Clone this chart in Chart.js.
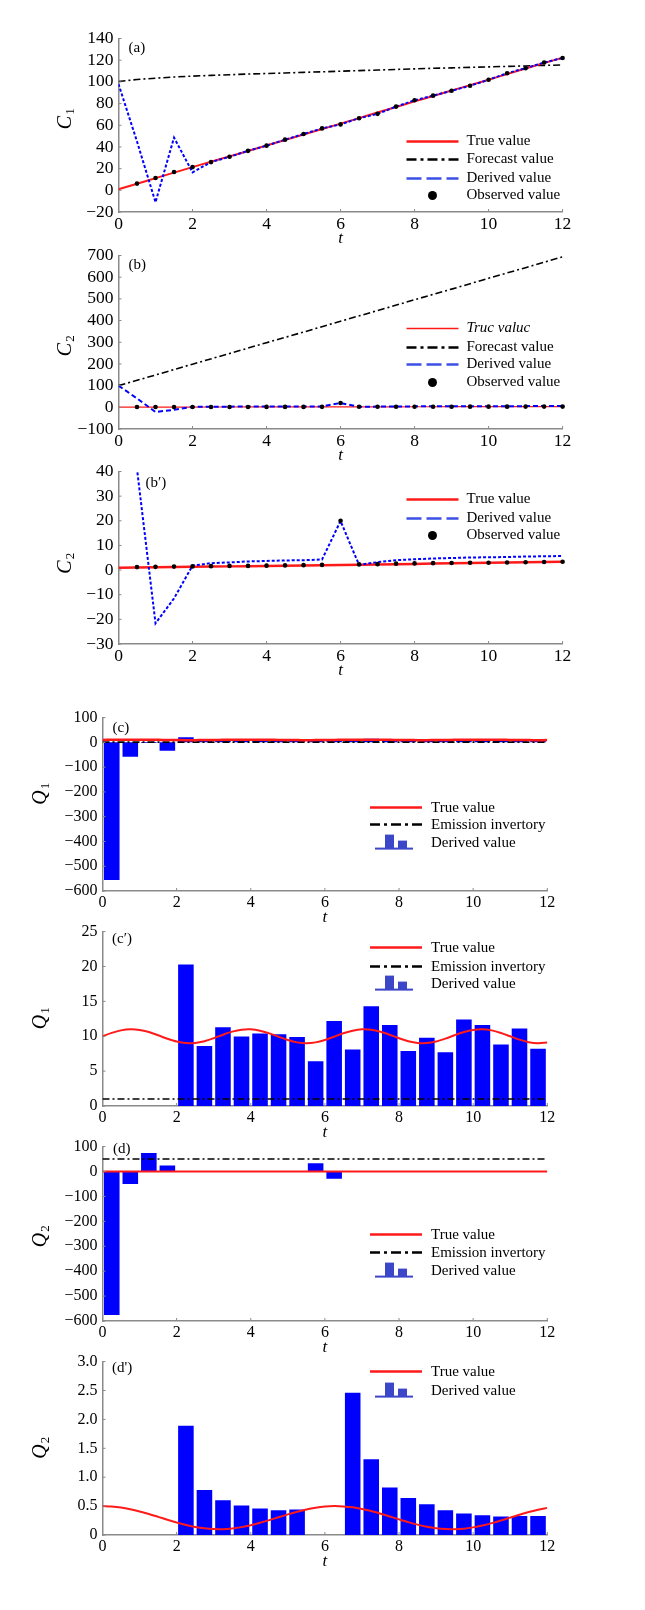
<!DOCTYPE html>
<html>
<head>
<meta charset="utf-8">
<script src="https://cdn.jsdelivr.net/npm/chart.js@4.4.0/dist/chart.umd.min.js"></script>
<style>
  body { margin: 0; background: #fff; }
  #wrap { position: relative; width: 645px; height: 1610px; overflow: hidden; }
  #wrap canvas { position: absolute; left: 0; }
</style>
</head>
<body>
<div id="wrap"></div>
<script>
// time grids
const tHalf = [0, 0.5, 1, 1.5, 2, 2.5, 3, 3.5, 4, 4.5, 5, 5.5, 6, 6.5, 7, 7.5, 8, 8.5, 9, 9.5, 10, 10.5, 11, 11.5, 12];
const tObs = [0.5, 1, 1.5, 2, 2.5, 3, 3.5, 4, 4.5, 5, 5.5, 6, 6.5, 7, 7.5, 8, 8.5, 9, 9.5, 10, 10.5, 11, 11.5, 12];
const tInt = [0, 1, 2, 3, 4, 5, 6, 7, 8, 9, 10, 11, 12];
const tBar = [0.25, 0.75, 1.25, 1.75, 2.25, 2.75, 3.25, 3.75, 4.25, 4.75, 5.25, 5.75,
              6.25, 6.75, 7.25, 7.75, 8.25, 8.75, 9.25, 9.75, 10.25, 10.75, 11.25, 11.75];
const tFine = [0, 0.25, 0.5, 0.75, 1, 1.25, 1.5, 1.75, 2, 2.25, 2.5, 2.75, 3, 3.25, 3.5, 3.75,
               4, 4.25, 4.5, 4.75, 5, 5.25, 5.5, 5.75, 6, 6.25, 6.5, 6.75, 7, 7.25, 7.5, 7.75,
               8, 8.25, 8.5, 8.75, 9, 9.25, 9.5, 9.75, 10, 10.25, 10.5, 10.75, 11, 11.25, 11.5, 11.75, 12];

// (a) C1
const c1True = [1, 6, 11.2, 16.3, 21.4, 26.4, 31.3, 36.3, 41.3, 46.4, 51.5, 56.5, 61.5, 66.6, 71.7,
                76.8, 82, 87, 92, 97, 102, 107.2, 112.4, 117.4, 122.2];
const c1Forecast = [100.4, 102.2, 103.4, 104.5, 105.3, 106, 106.6, 107.2, 107.7, 108.2, 108.8, 109.3,
                    109.8, 110.4, 110.9, 111.5, 112, 112.5, 112.9, 113.4, 113.8, 114.3, 114.7, 115.2, 115.6];
const c1Derived = [98, 45, -11, 48.6, 16.6, 26, 30.9, 36.4, 41.2, 46.7, 51.9, 57.1, 60.8, 66.5, 70.5,
                   77.2, 83, 87.3, 91.8, 96.4, 101.9, 108, 112.6, 117.8, 122];
const c1Obs = [6.2, 11.4, 16.9, 21.4, 26, 30.9, 36.4, 41.2, 46.7, 51.9, 57.1, 60.8, 66.5, 70.5, 77.2,
               83, 87.3, 91.8, 96.4, 101.9, 108, 112.6, 117.8, 122];

// (b) and (b') C2
const c2True = [0.9, 1.1, 1.3, 1.5, 1.7, 1.9, 2.1, 2.3, 2.5, 2.8, 3.0, 3.2, 3.4];
const c2Forecast = [100, 149, 199, 248, 298, 347, 397, 446, 496, 545, 595, 644, 694];
const c2Derived = [100, 41, -21.6, -11.5, 1.8, 2.8, 3.1, 3.5, 3.7, 3.9, 4.0, 4.3, 19.9, 2.1, 3.2,
                   4.0, 4.4, 4.7, 4.9, 5.1, 5.2, 5.3, 5.5, 5.6, 5.7];
const c2Obs = [1.2, 1.3, 1.4, 1.5, 1.6, 1.7, 1.7, 1.8, 1.9, 2.0, 2.1, 20, 2.3, 2.4, 2.6, 2.7, 2.8,
               2.9, 3.0, 3.0, 3.1, 3.2, 3.3, 3.4];

// (c) and (c') Q1
const q1True = [10, 10.48, 10.84, 11, 10.91, 10.6, 10.14, 9.65, 9.24, 9.02, 9.04, 9.29, 9.72, 10.22,
                10.66, 10.94, 10.99, 10.8, 10.41, 9.92, 9.46, 9.12, 9, 9.12, 9.46, 9.93, 10.42, 10.8,
                10.99, 10.93, 10.65, 10.21, 9.71, 9.29, 9.04, 9.02, 9.25, 9.66, 10.15, 10.6, 10.91,
                11, 10.84, 10.47, 9.99, 9.51, 9.15, 9, 9.09];
const q1Inventory = [1, 1];
const q1Derived = [-556, -58, -3, -34, 20.3, 8.6, 11.3, 9.95, 10.4, 10.3, 9.9, 6.4, 12.2, 8.1,
                   14.3, 11.6, 7.9, 9.8, 7.7, 12.4, 11.6, 8.8, 11.1, 8.2];

// (d) and (d') Q2
const q2True = [0.5, 0.494, 0.476, 0.446, 0.408, 0.363, 0.314, 0.264, 0.217, 0.174, 0.14, 0.115,
                0.102, 0.101, 0.113, 0.136, 0.169, 0.211, 0.258, 0.308, 0.357, 0.402, 0.442, 0.472,
                0.492, 0.5, 0.495, 0.479, 0.451, 0.414, 0.369, 0.321, 0.271, 0.223, 0.18, 0.144,
                0.118, 0.103, 0.101, 0.11, 0.132, 0.164, 0.205, 0.251, 0.301, 0.351, 0.397, 0.438, 0.469];
const q2Inventory = [50, 50];
const q2Derived = [-576, -50, 74.6, 24, 1.89, 0.78, 0.6, 0.51, 0.46, 0.43, 0.44, 33, -29.5, 2.46,
                   1.31, 0.82, 0.64, 0.53, 0.43, 0.37, 0.34, 0.32, 0.33, 0.33];
const q2DerivedZoom = [null, null, null, null, 1.89, 0.78, 0.6, 0.51, 0.46, 0.43, 0.44, null, null,
                       2.46, 1.31, 0.82, 0.64, 0.53, 0.43, 0.37, 0.34, 0.32, 0.33, 0.33];
const tEnds = [0, 12];

const FONT = "'Liberation Serif', 'Times New Roman', serif";
const RED = '#ff1a1a';
const BLUE = '#0000ff';
const LEG_BLUE = '#3c50e6';
const ICON_BLUE = '#3c46c8';
const AXIS = '#8a8a8a';
const PAD_TOP = 14;
const BELOW = 52;

function pts(xs, ys) {
    return xs.map((x, i) => ({ x: x, y: ys[i] }));
}

function trueLine(xs, ys, width) {
    return { type: 'line', data: pts(xs, ys), borderColor: RED, borderWidth: width || 2,
             pointRadius: 0, tension: 0.3, clip: 0, order: 1 };
}
function dashDot(xs, ys) {
    return { type: 'line', data: pts(xs, ys), borderColor: '#000', borderWidth: 1.6,
             borderDash: [7, 3, 2, 3], pointRadius: 0, clip: 0, order: 1 };
}
function derivedLine(xs, ys, dash) {
    return { type: 'line', data: pts(xs, ys), borderColor: BLUE, borderWidth: 2,
             borderDash: dash || [3, 2], pointRadius: 0, clip: 0, order: 0 };
}
function observed(xs, ys) {
    return { type: 'line', data: pts(xs, ys), showLine: false, pointRadius: 2.3,
             pointBackgroundColor: '#000', pointBorderWidth: 0, clip: 6, order: -1 };
}
function bars(xs, ys) {
    return { type: 'bar', data: pts(xs, ys), backgroundColor: BLUE, borderWidth: 0,
             barPercentage: 0.84, categoryPercentage: 1, clip: 0, order: 3 };
}

const LEG_TRUE = { kind: 'line', color: RED, width: 2.5, text: 'True value' };
const LEG_FORECAST = { kind: 'line', color: '#000', width: 2.5, dash: [10, 4, 3, 4], text: 'Forecast value' };
const LEG_DERIVED = { kind: 'line', color: LEG_BLUE, width: 2.5, dash: [15, 5], text: 'Derived value' };
const LEG_OBS = { kind: 'dot', text: 'Observed value' };
const LEG_INV = { kind: 'line', color: '#000', width: 2.5, dash: [10, 4, 3, 4], text: 'Emission invertory' };
const LEG_BAR = { kind: 'bar', text: 'Derived value' };

// draws the things chart.js has no option for: inward ticks, subscript labels, tags, legend
const decor = {
    id: 'decor',
    afterDraw(chart) {
        const p = chart.options.plugins.decor;
        const ctx = chart.ctx;
        const a = chart.chartArea;
        ctx.save();

        ctx.strokeStyle = AXIS;
        ctx.lineWidth = 1;
        chart.scales.x.ticks.forEach(t => {
            const x = chart.scales.x.getPixelForValue(t.value);
            ctx.beginPath(); ctx.moveTo(x, a.bottom); ctx.lineTo(x, a.bottom - 3); ctx.stroke();
        });
        chart.scales.y.ticks.forEach(t => {
            const y = chart.scales.y.getPixelForValue(t.value);
            ctx.beginPath(); ctx.moveTo(a.left, y); ctx.lineTo(a.left + 3, y); ctx.stroke();
        });

        // y title with subscript
        ctx.fillStyle = '#000';
        ctx.textBaseline = 'middle';
        ctx.save();
        ctx.translate(p.yTitleX, (a.top + a.bottom) / 2 + p.yTitleDy);
        ctx.rotate(-Math.PI / 2);
        ctx.font = 'italic 20px ' + FONT;
        const w1 = ctx.measureText(p.yMain).width;
        ctx.font = '13px ' + FONT;
        const w2 = ctx.measureText(p.ySub).width;
        const sx = -(w1 + w2) / 2;
        ctx.font = 'italic 20px ' + FONT;
        ctx.textAlign = 'left';
        ctx.fillText(p.yMain, sx, 0);
        ctx.font = '13px ' + FONT;
        ctx.fillText(p.ySub, sx + w1 + 1, 5);
        ctx.restore();

        // panel tag
        ctx.font = '15px ' + FONT;
        ctx.textAlign = 'left';
        ctx.fillText(p.tag, a.left + p.tagDx, a.top + p.tagDy);

        // legend
        p.legend.forEach((item, i) => {
            const y = a.top + p.rows[i];
            const x0 = a.left + p.legX;
            ctx.save();
            if (item.kind === 'line') {
                ctx.strokeStyle = item.color;
                ctx.lineWidth = item.width;
                ctx.setLineDash(item.dash || []);
                ctx.beginPath(); ctx.moveTo(x0, y); ctx.lineTo(x0 + 52, y); ctx.stroke();
            } else if (item.kind === 'dot') {
                ctx.fillStyle = '#000';
                ctx.beginPath(); ctx.arc(x0 + 26, y, 4.5, 0, Math.PI * 2); ctx.fill();
            } else {
                ctx.fillStyle = ICON_BLUE;
                ctx.fillRect(x0 + 5, y + 5, 38, 2);
                ctx.fillRect(x0 + 15, y - 8, 9, 14);
                ctx.fillRect(x0 + 28, y - 2, 9, 8);
            }
            ctx.restore();
            ctx.font = (item.italic ? 'italic ' : '') + '15px ' + FONT;
            ctx.fillStyle = '#000';
            ctx.fillText(item.text, x0 + p.legText, y);
        });
        ctx.restore();
    }
};

function tickText(v, decimals) {
    if (decimals && v !== 0) return v.toFixed(decimals);
    return v < 0 ? '\u2212' + Math.abs(v) : String(v);
}

function makePanel(p) {
    const wrap = document.getElementById('wrap');
    const canvas = document.createElement('canvas');
    const h = Math.round(p.bottom - p.top) + PAD_TOP + BELOW;
    canvas.width = 645;
    canvas.height = h;
    canvas.style.top = (p.top - PAD_TOP) + 'px';
    wrap.appendChild(canvas);

    new Chart(canvas, {
        type: 'line',
        data: { datasets: p.datasets },
        options: {
            responsive: false,
            animation: false,
            events: [],
            layout: { padding: { left: 0, right: 645 - p.right, top: PAD_TOP, bottom: 0 } },
            plugins: {
                legend: { display: false },
                tooltip: { enabled: false },
                decor: p
            },
            scales: {
                x: {
                    type: 'linear', min: 0, max: 12, offset: false,
                    grid: { display: false, drawTicks: false },
                    border: { display: true, color: AXIS, width: 1.5 },
                    ticks: { stepSize: 2, color: '#000', padding: 2, maxRotation: 0, autoSkip: false,
                             font: { family: FONT, size: p.tickSize } },
                    title: { display: true, text: 't', color: '#000',
                             font: { family: FONT, size: 17, style: 'italic' },
                             padding: { top: 0, bottom: 15 } },
                    afterFit: s => { s.height = BELOW; }
                },
                y: {
                    type: 'linear', min: p.yMin, max: p.yMax,
                    grid: { display: false, drawTicks: false },
                    border: { display: true, color: AXIS, width: 1.5 },
                    ticks: { stepSize: p.yStep, color: '#000', padding: 5, autoSkip: false,
                             font: { family: FONT, size: p.tickSize },
                             callback: v => tickText(v, p.decimals) },
                    afterFit: s => { s.width = p.left; }
                }
            }
        },
        plugins: [decor]
    });
}

const groupA = { left: 118.5, right: 562.6, tickSize: 17.5, yTitleX: 66, legX: 288, legText: 60, yMain: 'C' };
const groupC = { left: 102.5, right: 547.3, tickSize: 16, yTitleX: 41, legX: 267.5, legText: 61, yMain: 'Q' };

document.addEventListener('DOMContentLoaded', () => {
    makePanel(Object.assign({}, groupA, {
        top: 37, bottom: 212, yMin: -20, yMax: 140, yStep: 20, ySub: '1', yTitleDy: -6,
        tag: '(a)', tagDx: 10, tagDy: 10, rows: [103, 121, 140, 157],
        legend: [LEG_TRUE, LEG_FORECAST, LEG_DERIVED, LEG_OBS],
        datasets: [trueLine(tHalf, c1True), dashDot(tHalf, c1Forecast),
                   derivedLine(tHalf, c1Derived), observed(tObs, c1Obs)]
    }));
    makePanel(Object.assign({}, groupA, {
        top: 254, bottom: 429, yMin: -100, yMax: 700, yStep: 100, ySub: '2', yTitleDy: 4,
        tag: '(b)', tagDx: 10, tagDy: 10, rows: [73, 92, 109, 127],
        legend: [Object.assign({}, LEG_TRUE, { width: 1.5, text: 'Truc valuc', italic: true }),
                 LEG_FORECAST, LEG_DERIVED, LEG_OBS],
        datasets: [trueLine(tInt, c2True, 1.2), dashDot(tInt, c2Forecast),
                   derivedLine(tHalf, c2Derived, [5, 3]), observed(tObs, c2Obs)]
    }));
    makePanel(Object.assign({}, groupA, {
        top: 470, bottom: 644, yMin: -30, yMax: 40, yStep: 10, ySub: '2', yTitleDy: 6,
        tag: '(b\u2032)', tagDx: 27, tagDy: 12, rows: [28, 47, 64],
        legend: [LEG_TRUE, LEG_DERIVED, LEG_OBS],
        datasets: [trueLine(tInt, c2True, 2.5), derivedLine(tHalf, c2Derived), observed(tObs, c2Obs)]
    }));
    makePanel(Object.assign({}, groupC, {
        top: 717, bottom: 891, yMin: -600, yMax: 100, yStep: 100, ySub: '1', yTitleDy: -10,
        tag: '(c)', tagDx: 10, tagDy: 10, rows: [90, 107, 125],
        legend: [LEG_TRUE, LEG_INV, LEG_BAR],
        datasets: [trueLine(tFine, q1True, 2.5), dashDot(tEnds, q1Inventory), bars(tBar, q1Derived)]
    }));
    makePanel(Object.assign({}, groupC, {
        top: 931, bottom: 1106, yMin: 0, yMax: 25, yStep: 5, ySub: '1', yTitleDy: 0,
        tag: '(c\u2032)', tagDx: 9.5, tagDy: 7, rows: [16, 35, 52],
        legend: [LEG_TRUE, LEG_INV, LEG_BAR],
        datasets: [trueLine(tFine, q1True), dashDot(tEnds, q1Inventory), bars(tBar, q1Derived)]
    }));
    makePanel(Object.assign({}, groupC, {
        top: 1146, bottom: 1321, yMin: -600, yMax: 100, yStep: 100, ySub: '2', yTitleDy: 3,
        tag: '(d)', tagDx: 10.5, tagDy: 2, rows: [88, 106, 124],
        legend: [LEG_TRUE, LEG_INV, LEG_BAR],
        datasets: [trueLine(tFine, q2True), dashDot(tEnds, q2Inventory), bars(tBar, q2Derived)]
    }));
    makePanel(Object.assign({}, groupC, {
        top: 1361, bottom: 1535, yMin: 0, yMax: 3, yStep: 0.5, decimals: 1, ySub: '2', yTitleDy: 0,
        tag: "(d')", tagDx: 9.5, tagDy: 6, rows: [10, 29],
        legend: [LEG_TRUE, LEG_BAR],
        datasets: [trueLine(tFine, q2True), bars(tBar, q2DerivedZoom)]
    }));
});
</script>
</body>
</html>
